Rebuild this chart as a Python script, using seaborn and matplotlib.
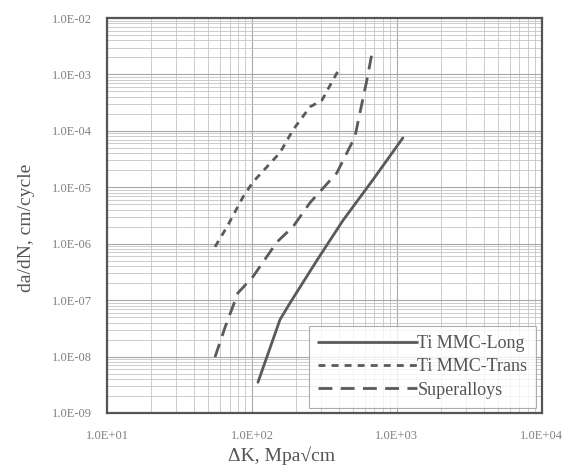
import matplotlib
matplotlib.use("Agg")
import matplotlib.pyplot as plt
import seaborn as sns
import pandas as pd
from matplotlib.ticker import FuncFormatter, LogLocator, NullFormatter

# crack growth rate curves
long_dk = [110, 156, 183, 281, 425, 682, 1099]
long_rate = [3.5e-9, 4.5e-8, 8.9e-8, 5.1e-7, 2.6e-6, 1.35e-5, 7.5e-5]

trans_dk = [55.6, 67.3, 86.7, 101.6, 126.8, 156, 192, 251, 304, 392]
trans_rate = [8.8e-7, 2.0e-6, 6.7e-6, 1.24e-5, 2.3e-5, 4.1e-5, 1.04e-4, 2.65e-4, 3.5e-4, 1.15e-3]

super_dk = [55.6, 65.2, 80, 101.6, 148.6, 192, 251, 385, 513, 556, 621, 673]
super_rate = [9.8e-9, 3.3e-8, 1.34e-7, 2.6e-7, 1.07e-6, 2.0e-6, 5.3e-6, 1.8e-5, 7.8e-5, 2.1e-4, 8.0e-4, 2.4e-3]

series_names = ["Ti MMC-Long", "Ti MMC-Trans", "Superalloys"]

sns.set_style("white")
plt.rcParams['font.family'] = ['Liberation Serif', 'DejaVu Serif']

fig = plt.figure(figsize=(5.71, 4.74), dpi=100)
ax = fig.add_axes([0.1874, 0.1287, 0.949 - 0.1874, 0.962 - 0.1287])

line_color = "#5a5a5a"
styles = ["-", (0, (2.5, 2.2)), (0, (5, 3))]
data = [(long_dk, long_rate), (trans_dk, trans_rate), (super_dk, super_rate)]

for name, (xs, ys), ls in zip(series_names, data, styles):
    df = pd.DataFrame({"dk": xs, "rate": ys})
    sns.lineplot(data=df, x="dk", y="rate", ax=ax, color=line_color,
                 linewidth=2.0, linestyle=ls, sort=False, label=name)

ax.set_xscale("log")
ax.set_yscale("log")
ax.set_xlim(10, 1e4)
ax.set_ylim(1e-9, 1e-2)

ax.xaxis.set_major_locator(LogLocator(base=10, numticks=10))
ax.yaxis.set_major_locator(LogLocator(base=10, numticks=10))
ax.xaxis.set_minor_locator(LogLocator(base=10, subs=range(2, 10), numticks=100))
ax.yaxis.set_minor_locator(LogLocator(base=10, subs=range(2, 10), numticks=100))
fmt = FuncFormatter(lambda v, p: f"{v:.1E}")
ax.xaxis.set_major_formatter(fmt)
ax.yaxis.set_major_formatter(fmt)
ax.xaxis.set_minor_formatter(NullFormatter())
ax.yaxis.set_minor_formatter(NullFormatter())

ax.grid(which="major", color="#a8a8a8", linewidth=0.8)
ax.grid(which="minor", color="#c4c4c4", linewidth=0.6)
ax.set_axisbelow(True)

ax.tick_params(axis="both", which="both", length=0)
ax.tick_params(axis="x", labelsize=9, pad=12, labelcolor="#808080")
ax.tick_params(axis="y", labelsize=9, pad=11, labelcolor="#808080")

for sp in ax.spines.values():
    sp.set_color("#555555")
    sp.set_linewidth(1.6)

ax.set_xlabel("ΔK, Mpa√cm", fontsize=14, color="#555555")
ax.xaxis.set_label_coords(0.402, -0.083)
ax.set_ylabel("da/dN, cm/cycle", fontsize=14, color="#555555")
ax.yaxis.set_label_coords(-0.165, 0.468)

leg = ax.legend(loc="lower right", fontsize=13, frameon=True, fancybox=False,
                handlelength=5.5, handletextpad=0.0, borderpad=0.5,
                labelspacing=0.35, borderaxespad=0.3)
leg.get_frame().set_edgecolor("#999999")
leg.get_frame().set_linewidth(0.8)
for t in leg.get_texts():
    t.set_color("#555555")

fig.savefig("out.png", dpi=100)
